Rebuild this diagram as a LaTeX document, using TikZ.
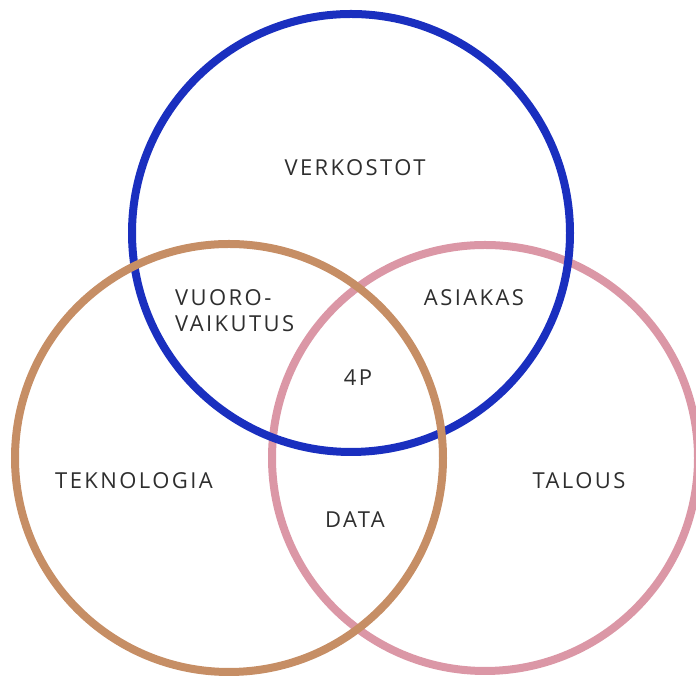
\documentclass[tikz,border=0pt]{standalone}
\usepackage{fontspec}
\setmainfont{Open Sans}[LetterSpace=11]
\definecolor{vblue}{HTML}{1A2FBF}
\definecolor{vbrown}{HTML}{C68E65}
\definecolor{vpink}{HTML}{DB97A6}
\definecolor{vtext}{HTML}{2E2E2E}
\begin{document}
\begin{tikzpicture}[x=1pt,y=1pt,
  ring/.style={line width=8pt},
  lbl/.style={text=vtext,font=\fontsize{22}{26}\selectfont,inner sep=0pt}]
\useasboundingbox (0,0) rectangle (696,676);
\begin{scope}
\clip (0,0) rectangle (696,676);
\draw[ring,vpink] (485,218) circle[radius=213];
\draw[ring,vblue] (351,443) circle[radius=219];
\draw[ring,vbrown] (229,218) circle[radius=214];
\end{scope}
\node[lbl] (verk) at (355,508) {VERKOSTOT};
\node[lbl,align=left,anchor=west] (vuoro) at (175,365) {VUORO-\\VAIKUTUS};
\node[lbl] (asi) at (474,378) {ASIAKAS};
\node[lbl] (p4) at (358,298) {4P};
\node[lbl] (tek) at (134,195) {TEKNOLOGIA};
\node[lbl] (tal) at (579,195) {TALOUS};
\node[lbl] (data) at (355,156) {DATA};
\end{tikzpicture}
\end{document}
